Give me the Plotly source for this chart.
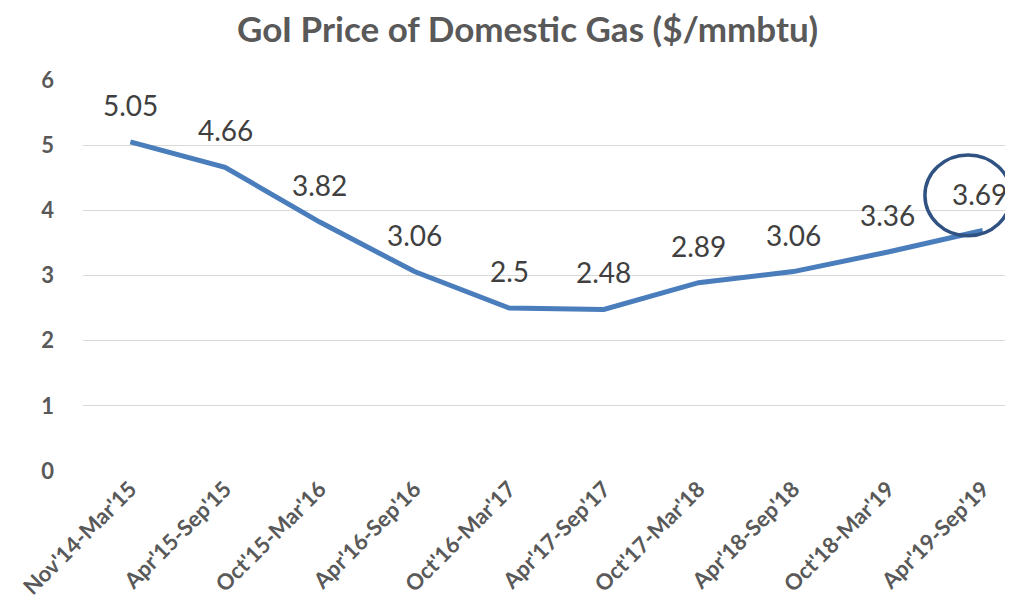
import plotly.graph_objects as go

categories = ["Nov'14-Mar'15", "Apr'15-Sep'15", "Oct'15-Mar'16", "Apr'16-Sep'16",
              "Oct'16-Mar'17", "Apr'17-Sep'17", "Oct'17-Mar'18", "Apr'18-Sep'18",
              "Oct'18-Mar'19", "Apr'19-Sep'19"]
prices = [5.05, 4.66, 3.82, 3.06, 2.5, 2.48, 2.89, 3.06, 3.36, 3.69]
label_texts = ["5.05", "4.66", "3.82", "3.06", "2.5", "2.48", "2.89", "3.06", "3.36", "3.69"]
y_ticks = [0, 1, 2, 3, 4, 5, 6]

FONT = "Lato"
GREY = "#595959"

fig = go.Figure()
fig.add_trace(go.Scatter(
    x=list(range(len(categories))), y=prices, mode="lines",
    line=dict(color="#4a7dbb", width=5), hoverinfo="skip", showlegend=False,
))

n = len(prices)
for i, (v, t) in enumerate(zip(prices, label_texts)):
    fig.add_annotation(x=i, y=v, text=t, showarrow=False, yshift=37,
                       xshift=-3 if i == n - 1 else 0,
                       font=dict(family=FONT, size=28, color="#404040"))

# highlight circle around the latest value
fig.add_shape(type="circle", xref="x", yref="y",
              x0=8.39, x1=9.30, y0=3.61, y1=4.85,
              line=dict(color="#2f5283", width=3.5))

fig.update_layout(
    width=1005, height=595,
    margin=dict(l=75, r=0, t=72, b=132),
    paper_bgcolor="white", plot_bgcolor="white",
    title=dict(text="<b>GoI Price of Domestic Gas ($/mmbtu)</b>", x=0.517, xanchor="center",
               y=0.963, yanchor="middle",
               font=dict(family=FONT, size=35, color=GREY)),
    xaxis=dict(
        tickmode="array", tickvals=list(range(len(categories))),
        ticktext=[f"<b>{c}</b>" for c in categories],
        tickangle=-45, range=[-0.5, 9.32], showgrid=False, zeroline=False,
        showline=False, ticks="", automargin=False,
        tickfont=dict(family=FONT, size=22, color=GREY),
    ),
    yaxis=dict(
        range=[0, 6], tickvals=y_ticks, ticktext=[f"<b>{v}</b>" for v in y_ticks],
        showgrid=True, gridcolor="#d9d9d9", gridwidth=1, zeroline=False,
        ticks="", ticklen=0, ticklabelstandoff=28, automargin=False,
        tickfont=dict(family=FONT, size=22, color=GREY),
    ),
)

fig.write_html("out.html")
